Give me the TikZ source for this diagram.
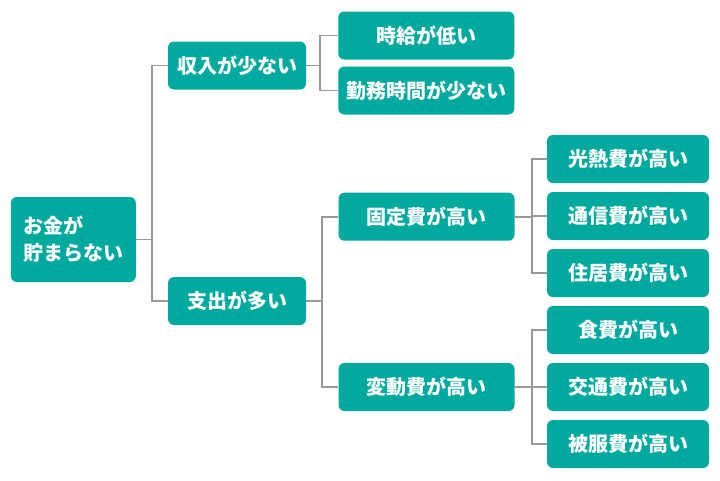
\documentclass[tikz,border=0pt]{standalone}
\usepackage{fontspec}
\setmainfont{Noto Sans CJK JP}
\usepackage{xcolor}
\usepackage{tikz}
\usetikzlibrary{positioning}

\definecolor{teal}{HTML}{00A99D}
\definecolor{linegray}{HTML}{999999}

\begin{document}
\begin{tikzpicture}[
    x=1pt, y=-1pt,
    box/.style={rectangle, fill=teal, rounded corners=6pt, minimum height=48pt,
      inner sep=0pt, text=white, align=center, font=\fontsize{20}{27}\selectfont\bfseries},
    rootbox/.style={box, minimum width=125pt, minimum height=85pt, text width=100pt, align=left},
    lvone/.style={box, minimum width=138pt},
    lvtwo/.style={box, minimum width=176pt},
    lvthree/.style={box, minimum width=162pt},
    link/.style={draw=linegray, line width=1.6pt},
  ]
    \useasboundingbox (0,0) rectangle (720,480);

    % Nodes
    \node[rootbox] (root) at (73.3,239.5) {お金が\\貯まらない};
    \node[lvone] (income) at (237,65.5) {収入が少ない};
    \node[lvone] (spend) at (237,301) {支出が多い};
    \node[lvtwo] (wage) at (426.3,35.5) {時給が低い};
    \node[lvtwo] (hours) at (426.3,90.5) {勤務時間が少ない};
    \node[lvtwo] (fixed) at (426.5,216.7) {固定費が高い};
    \node[lvtwo] (varcost) at (426.5,387) {変動費が高い};
    \node[lvthree] (utility) at (628,159) {光熱費が高い};
    \node[lvthree] (phone) at (628,216) {通信費が高い};
    \node[lvthree] (housing) at (628,273) {住居費が高い};
    \node[lvthree] (food) at (628,330) {食費が高い};
    \node[lvthree] (transport) at (628,387) {交通費が高い};
    \node[lvthree] (clothes) at (628,444) {被服費が高い};

    % Links
    \draw[link] (root.east) -- ++(16,0) |- (income.west);
    \draw[link] (root.east) -- ++(16,0) |- (spend.west);
    \draw[link] (income.east) -- ++(14,0) |- (wage.west);
    \draw[link] (income.east) -- ++(14,0) |- (hours.west);
    \draw[link] (spend.east) -- ++(16,0) |- (fixed.west);
    \draw[link] (spend.east) -- ++(16,0) |- (varcost.west);
    \draw[link] (fixed.east) -- ++(17,0) |- (utility.west);
    \draw[link] (fixed.east) -- ++(17,0) |- (phone.west);
    \draw[link] (fixed.east) -- ++(17,0) |- (housing.west);
    \draw[link] (varcost.east) -- ++(17,0) |- (food.west);
    \draw[link] (varcost.east) -- ++(17,0) |- (transport.west);
    \draw[link] (varcost.east) -- ++(17,0) |- (clothes.west);
\end{tikzpicture}
\end{document}
